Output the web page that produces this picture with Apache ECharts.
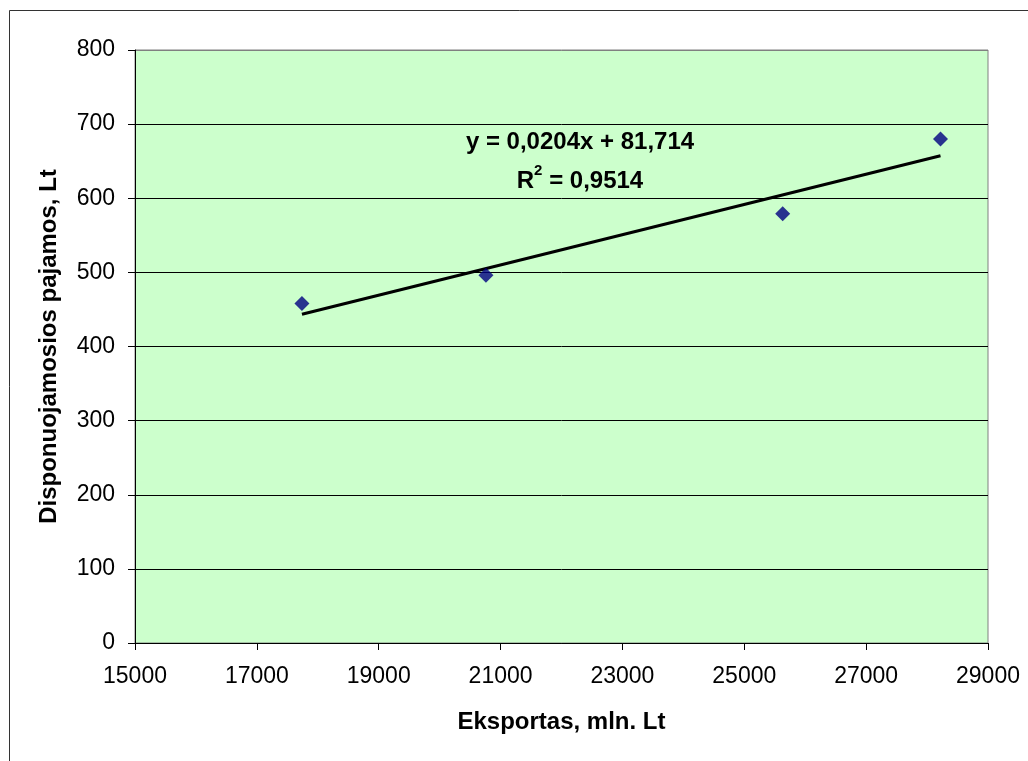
<!DOCTYPE html>
<html>
<head>
<meta charset="utf-8">
<title>Eksportas ir disponuojamosios pajamos</title>
<script src="https://cdn.jsdelivr.net/npm/echarts@6/dist/echarts.min.js"></script>
<style>
  html, body { margin: 0; padding: 0; background: #fff; }
  #main { width: 1028px; height: 761px; }
</style>
</head>
<body>
<div id="main"></div>
<script>
// duomenys
const eksportas = [17740, 20760, 25630, 28220];   // mln. Lt
const pajamos = [458, 496, 579, 680];             // Lt
const xTicks = [15000, 17000, 19000, 21000, 23000, 25000, 27000, 29000];
const yTicks = [0, 100, 200, 300, 400, 500, 600, 700, 800];
// tiesine trendo linija
const trendSlope = 0.0204;
const trendIntercept = 81.714;
const trendR2 = "0,9514";

let chart = echarts.init(document.getElementById("main"));

let points = eksportas.map((x, i) => [x, pajamos[i]]);
let xMin = Math.min(...eksportas), xMax = Math.max(...eksportas);
let trend = [xMin, xMax].map(x => [x, trendSlope * x + trendIntercept]);

let font = "'Liberation Sans', Arial, sans-serif";
// splitLine spalvos: virsutine linija pilka kaip remelis
let splitColors = yTicks.map((v, i) => (i === yTicks.length - 1 ? "#808080" : "#000"));

let option = {
  animation: false,
  backgroundColor: "#fff",
  textStyle: { fontFamily: font },
  grid: {
    left: 135,
    right: 40,
    top: 50,
    bottom: 118,
    show: true,
    backgroundColor: "#CCFFCC",
    borderColor: "#808080",
    borderWidth: 1
  },
  xAxis: {
    type: "value",
    min: xTicks[0],
    max: xTicks[xTicks.length - 1],
    interval: 2000,
    name: "Eksportas, mln. Lt",
    nameLocation: "middle",
    nameGap: 67,
    nameTextStyle: { fontSize: 24, fontWeight: "bold", color: "#000", fontFamily: font },
    axisLine: { show: true, lineStyle: { color: "#000", width: 1 } },
    axisTick: { show: true, length: 7, lineStyle: { color: "#000" } },
    axisLabel: { fontSize: 23, color: "#000", margin: 22, fontFamily: font, formatter: v => String(v) },
    splitLine: { show: false }
  },
  yAxis: {
    type: "value",
    min: yTicks[0],
    max: yTicks[yTicks.length - 1],
    interval: 100,
    name: "Disponuojamosios pajamos, Lt",
    nameLocation: "middle",
    nameGap: 74,
    nameTextStyle: { fontSize: 24, fontWeight: "bold", color: "#000", fontFamily: font },
    axisLine: { show: true, lineStyle: { color: "#000", width: 1 } },
    axisTick: { show: true, length: 7, lineStyle: { color: "#000" } },
    axisLabel: { fontSize: 23, color: "#000", margin: 20, fontFamily: font, formatter: v => String(v) },
    splitLine: { show: true, lineStyle: { color: splitColors, width: 1 } }
  },
  series: [
    {
      name: "trend",
      type: "line",
      data: trend,
      symbol: "none",
      lineStyle: { color: "#000", width: 3 },
      z: 2
    },
    {
      name: "duomenys",
      type: "scatter",
      data: points,
      symbol: "diamond",
      symbolSize: 15,
      itemStyle: { color: "#000080" },
      z: 3
    }
  ],
  graphic: [
    {
      // isorinis remelis
      type: "rect",
      shape: { x: 9.5, y: 10.5, width: 1030, height: 760 },
      style: { fill: null, stroke: "#333", lineWidth: 1 },
      silent: true
    },
    {
      type: "text",
      style: {
        x: 580,
        y: 130,
        text: "y = 0,0204x + 81,714",
        fontSize: 24,
        fontWeight: "bold",
        fontFamily: font,
        fill: "#000",
        align: "center",
        verticalAlign: "top"
      }
    },
    {
      type: "text",
      style: {
        x: 580,
        y: 163,
        text: "{r|R}{s|2}{r| = " + trendR2 + "}",
        align: "center",
        verticalAlign: "top",
        rich: {
          r: { fontSize: 24, fontWeight: "bold", fontFamily: font, color: "#000", lineHeight: 30, verticalAlign: "bottom" },
          s: { fontSize: 15, fontWeight: "bold", fontFamily: font, color: "#000", lineHeight: 30, verticalAlign: "top" }
        }
      }
    }
  ]
};

chart.setOption(option);
</script>
</body>
</html>
